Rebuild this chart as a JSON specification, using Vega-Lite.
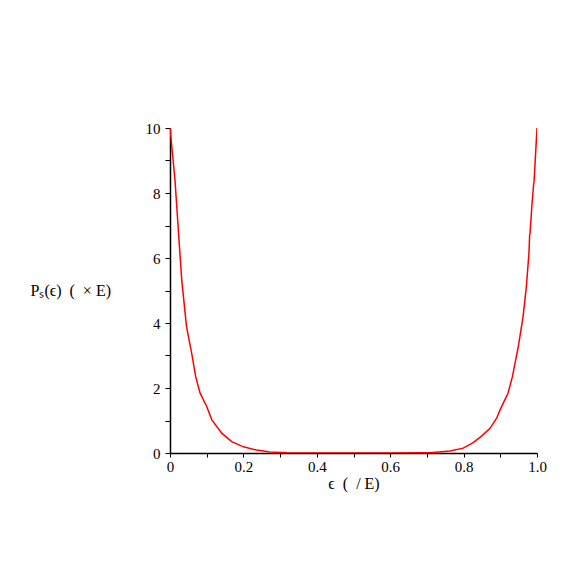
{
  "$schema": "https://vega.github.io/schema/vega-lite/v6.json",
  "width": 367,
  "height": 325,
  "autosize": {"type": "none"},
  "padding": {"left": 170, "top": 128, "right": 38, "bottom": 122},
  "background": "white",
  "config": {"view": {"stroke": null}, "font": "Liberation Serif"},
  "data": {"values": [
    {"e": 0, "p": 10},
    {"e": 0.0136, "p": 8.4},
    {"e": 0.0227, "p": 6.86},
    {"e": 0.032, "p": 5.32},
    {"e": 0.045, "p": 3.89},
    {"e": 0.059, "p": 3.07},
    {"e": 0.07, "p": 2.35},
    {"e": 0.082, "p": 1.84},
    {"e": 0.1, "p": 1.43},
    {"e": 0.114, "p": 1.02},
    {"e": 0.141, "p": 0.61},
    {"e": 0.168, "p": 0.35},
    {"e": 0.2, "p": 0.19},
    {"e": 0.236, "p": 0.09},
    {"e": 0.272, "p": 0.03},
    {"e": 0.32, "p": 0.01},
    {"e": 0.4, "p": 0},
    {"e": 0.5, "p": 0},
    {"e": 0.6, "p": 0},
    {"e": 0.68, "p": 0.005},
    {"e": 0.708, "p": 0.01},
    {"e": 0.763, "p": 0.06},
    {"e": 0.799, "p": 0.15},
    {"e": 0.826, "p": 0.32},
    {"e": 0.849, "p": 0.52},
    {"e": 0.872, "p": 0.76},
    {"e": 0.89, "p": 1.07},
    {"e": 0.899, "p": 1.32},
    {"e": 0.921, "p": 1.84},
    {"e": 0.933, "p": 2.35},
    {"e": 0.949, "p": 3.27},
    {"e": 0.962, "p": 4.19},
    {"e": 0.971, "p": 5.12},
    {"e": 0.978, "p": 6.14},
    {"e": 0.98, "p": 6.71},
    {"e": 0.981, "p": 6.75},
    {"e": 0.986, "p": 7.6},
    {"e": 0.991, "p": 8.3},
    {"e": 0.992, "p": 8.35},
    {"e": 1.0, "p": 10}
  ]},
  "mark": {"type": "line", "color": "#ff0000", "strokeWidth": 1.5, "clip": true},
  "encoding": {
    "x": {
      "field": "e", "type": "quantitative",
      "scale": {"domain": [0, 1], "nice": false, "zero": false},
      "axis": {
        "values": [0, 0.1, 0.2, 0.3, 0.4, 0.5, 0.6, 0.7, 0.8, 0.9, 1.0],
        "labelExpr": "datum.value == 0 ? '0' : (round(datum.value * 10) % 2 == 1 ? '' : format(datum.value, '.1f'))",
        "grid": false,
        "domainColor": "black", "domainWidth": 1.5,
        "tickColor": "black", "tickSize": 4, "tickWidth": 1,
        "labelColor": "black", "labelFontSize": 15, "labelFont": "Liberation Serif",
        "labelPadding": 2, "labelOverlap": false, "labelFlush": false,
        "title": "ϵ\u2002(\u2002/ E)",
        "titleFont": "Liberation Serif", "titleFontSize": 16, "titleFontWeight": "normal", "titleColor": "black",
        "titleBaseline": "middle", "titleY": 30
      }
    },
    "y": {
      "field": "p", "type": "quantitative",
      "scale": {"domain": [0, 10], "nice": false},
      "axis": {
        "values": [0, 1, 2, 3, 4, 5, 6, 7, 8, 9, 10],
        "labelExpr": "datum.value % 2 == 1 ? '' : format(datum.value, 'd')",
        "grid": false,
        "domainColor": "black", "domainWidth": 1.5,
        "tickColor": "black", "tickSize": 5, "tickWidth": 1,
        "labelColor": "black", "labelFontSize": 15, "labelFont": "Liberation Serif",
        "labelPadding": 5, "labelOverlap": false, "labelFlush": false,
        "title": "Pₛ(ϵ)\u2002(\u2002× E)",
        "titleFont": "Liberation Serif", "titleFontSize": 16, "titleFontWeight": "normal", "titleColor": "black",
        "titleAngle": 0, "titleAlign": "left", "titleBaseline": "middle",
        "titleX": -140, "titleY": 162
      }
    }
  }
}
